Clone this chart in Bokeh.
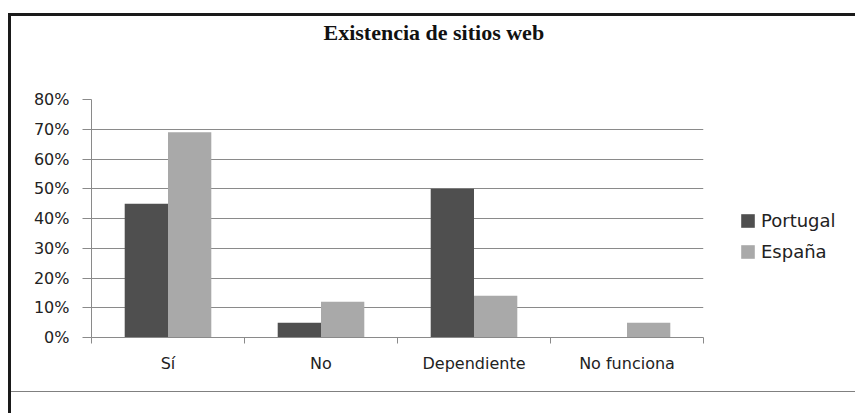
from bokeh.plotting import figure
from bokeh.models import (Range1d, FixedTicker, NumeralTickFormatter, Legend, LegendItem,
                          ColumnDataSource, Title, Div)
from bokeh.layouts import column
from bokeh.transform import dodge
from bokeh.embed import file_html
from bokeh.resources import INLINE

# ---- data ----
categories = ["Sí", "No", "Dependiente", "No funciona"]
portugal = [0.45, 0.05, 0.50, 0.00]
espana = [0.69, 0.12, 0.14, 0.05]
series_names = ["Portugal", "España"]
y_ticks = [0.0, 0.1, 0.2, 0.3, 0.4, 0.5, 0.6, 0.7, 0.8]
title_text = "Existencia de sitios web"

# ---- styles ----
DARK = "#4f4f4f"
LIGHT = "#a9a9a9"
GRID = "#8a8a8a"
FONT = "DejaVu Sans"

centers = [i + 0.5 for i in range(len(categories))]
src = ColumnDataSource(dict(x=centers, portugal=portugal, espana=espana))

p = figure(frame_width=612, frame_height=238, x_range=Range1d(0, len(categories)),
           y_range=Range1d(0, y_ticks[-1]), output_backend="svg",
           toolbar_location=None, min_border_left=80, min_border_right=152,
           min_border_top=83, min_border_bottom=54)
p.outline_line_color = None
p.background_fill_color = "white"
p.border_fill_color = "white"

bw = 0.283
r1 = p.vbar(x=dodge("x", -bw / 2), top="portugal", width=bw, source=src,
            fill_color=DARK, line_color=None)
r2 = p.vbar(x=dodge("x", bw / 2), top="espana", width=bw, source=src,
            fill_color=LIGHT, line_color=None)

# y axis
p.yaxis.ticker = FixedTicker(ticks=y_ticks)
p.yaxis.formatter = NumeralTickFormatter(format="0%")
p.yaxis.axis_line_color = GRID
p.yaxis.major_tick_line_color = GRID
p.yaxis.major_tick_out = 9
p.yaxis.major_tick_in = 0
p.yaxis.minor_tick_line_color = None
p.yaxis.major_label_standoff = 13
p.yaxis.major_label_text_font = FONT
p.yaxis.major_label_text_font_size = "16px"
p.yaxis.major_label_text_color = "#222222"

# x axis: labels at centres, tick marks at category boundaries
p.xaxis.ticker = FixedTicker(ticks=centers, minor_ticks=list(range(len(categories) + 1)))
p.xaxis.major_label_overrides = {c: cat for c, cat in zip(centers, categories)}
p.xaxis.axis_line_color = GRID
p.xaxis.major_tick_line_color = None
p.xaxis.major_tick_out = 0
p.xaxis.major_tick_in = 0
p.xaxis.minor_tick_line_color = GRID
p.xaxis.minor_tick_out = 6
p.xaxis.minor_tick_in = 0
p.xaxis.major_label_standoff = 10
p.xaxis.major_label_text_font = FONT
p.xaxis.major_label_text_font_size = "16px"
p.xaxis.major_label_text_color = "#222222"

p.xgrid.visible = False
p.ygrid.ticker = FixedTicker(ticks=y_ticks[1:])
p.ygrid.grid_line_color = GRID

# title (a blank spacer title sits between the real title and the frame)
spacer = Title(text=" ", text_font_size="10px", standoff=41)
p.add_layout(spacer, "above")
t = Title(text=title_text, align="left", offset=232, standoff=2,
          text_font="Liberation Serif", text_font_style="bold",
          text_font_size="22px", text_color="#111111")
p.add_layout(t, "above")

# legend
legend = Legend(items=[LegendItem(label=series_names[0], renderers=[r1]),
                       LegendItem(label=series_names[1], renderers=[r2])],
                location=(36, 75), orientation="vertical")
legend.border_line_color = None
legend.background_fill_alpha = 0
legend.label_text_font = FONT
legend.label_text_font_size = "18px"
legend.label_text_color = "#222222"
legend.glyph_width = 17
legend.glyph_height = 17
legend.label_height = 20
legend.spacing = 10
legend.label_standoff = 5
legend.padding = 10
legend.margin = 0
p.add_layout(legend, "right")

bottom = Div(text="", width=844, height=22, margin=0,
             styles={"border-top": "1px solid #808080"})

layout = column(p, bottom, spacing=0, margin=(13, 0, 0, 8),
                styles={"border-left": "3px solid #1a1a1a",
                        "border-top": "3px solid #1a1a1a"})

open("out.html", "w").write(file_html(layout, INLINE))
